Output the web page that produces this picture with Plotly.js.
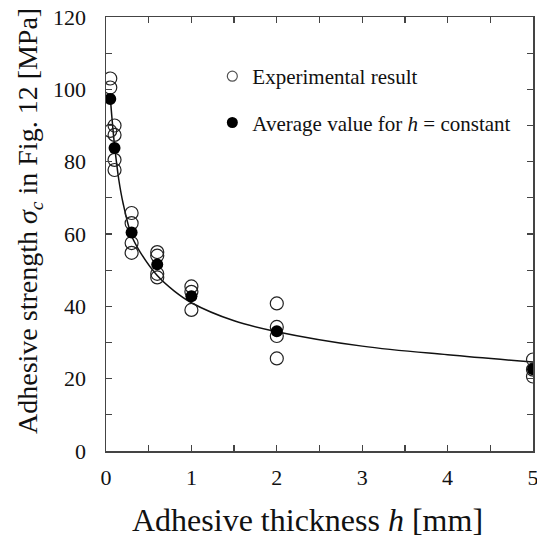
<!DOCTYPE html>
<html>
<head>
<meta charset="utf-8">
<script src="https://cdn.plot.ly/plotly-3.0.1.min.js"></script>
<style>html,body{margin:0;padding:0;background:#fff;}#chart{width:537px;height:553px;}</style>
</head>
<body>
<div id="chart"></div>
<script>
// Experimental results
const expH = [0.05, 0.05, 0.05,
              0.1, 0.1, 0.1, 0.1,
              0.3, 0.3, 0.3, 0.3,
              0.6, 0.6, 0.6, 0.6,
              1, 1, 1,
              2, 2, 2, 2,
              5, 5, 5];
const expS = [103, 100.5, 88.5,
              90, 87.4, 80.5, 77.7,
              65.8, 63, 57.5, 54.8,
              55, 54, 48, 49,
              45.5, 44, 39,
              40.8, 34.3, 31.8, 25.6,
              25.3, 22.5, 20.6];
// Average values for h = constant
const avgH = [0.05, 0.1, 0.3, 0.6, 1, 2, 5];
const avgS = [97.3, 83.8, 60.4, 51.6, 42.8, 33.1, 22.6];
// Fitted curve
const fitH = [0.05, 0.07, 0.1, 0.15, 0.2, 0.3, 0.4, 0.6, 0.8, 1, 1.5, 2, 3, 4, 5];
const fitS = [98, 92, 84.5, 75, 68.5, 59.5, 55, 48.5, 44.2, 41, 36, 33, 29, 26.6, 24.6];

const xTitle = 'Adhesive thickness <i>h</i> [mm]';
const yTitle = 'Adhesive strength <i>σ<sub>c</sub></i> in Fig. 12 [MPa]';

const serif = 'Liberation Serif, Times New Roman, serif';

const traces = [
  {x: fitH, y: fitS, mode: 'lines', line: {color: '#111', width: 1.5, shape: 'spline'}, showlegend: false, hoverinfo: 'skip'},
  {x: expH, y: expS, mode: 'markers', showlegend: false,
   marker: {symbol: 'circle-open', size: 13, color: '#222', line: {width: 1.2, color: '#222'}}},
  {x: avgH, y: avgS, mode: 'markers', showlegend: false,
   marker: {symbol: 'circle', size: 12, color: '#000'}},
  // legend-only entries (smaller markers)
  {x: [null], y: [null], mode: 'markers', name: 'Experimental result', legendgroup: 'a',
   marker: {symbol: 'circle-open', size: 10, color: '#555', line: {width: 1.2, color: '#555'}}},
  {x: [null], y: [null], mode: 'markers', name: 'Average value for <i>h</i> = constant', legendgroup: 'b',
   marker: {symbol: 'circle', size: 11, color: '#000'}}
];

const axisCommon = {
  showline: true, linecolor: '#444', linewidth: 1.5, mirror: 'ticks',
  ticks: 'inside', ticklen: 6, tickwidth: 1.3, tickcolor: '#444',
  showgrid: false, zeroline: false, ticklabeloverflow: 'allow',
  tickfont: {family: serif, size: 22, color: '#111'}
};

const layout = {
  width: 537, height: 553,
  margin: {l: 106, r: 4, t: 17, b: 102},
  paper_bgcolor: '#fff', plot_bgcolor: '#fff',
  showlegend: true,
  legend: {x: 0.249, y: 0.91, xanchor: 'left', yanchor: 'top', bgcolor: 'rgba(0,0,0,0)',
           font: {family: serif, size: 21, color: '#111'}, tracegroupgap: 16, itemwidth: 30},
  xaxis: Object.assign({}, axisCommon, {
    range: [0, 5], dtick: 1, tick0: 0, ticklabelstandoff: 6,
    minor: {dtick: 0.5, ticks: 'inside', ticklen: 6, tickwidth: 1.3, tickcolor: '#444', showgrid: false}
  }),
  yaxis: Object.assign({}, axisCommon, {
    range: [0, 120], dtick: 20, tick0: 0, ticklabelstandoff: 14,
    minor: {dtick: 10, ticks: 'inside', ticklen: 6, tickwidth: 1.3, tickcolor: '#444', showgrid: false}
  }),
  annotations: [
    {text: xTitle, xref: 'paper', yref: 'paper', x: 0.5, y: 0, xshift: -12, yshift: -69,
     xanchor: 'center', yanchor: 'middle', showarrow: false,
     font: {family: serif, size: 32, color: '#111'}},
    {text: yTitle, xref: 'paper', yref: 'paper', x: 0, y: 0.53, xshift: -76,
     xanchor: 'center', yanchor: 'middle', textangle: -90, showarrow: false,
     font: {family: serif, size: 28, color: '#111'}}
  ]
};

Plotly.newPlot('chart', traces, layout, {displayModeBar: false, staticPlot: true});
</script>
</body>
</html>
